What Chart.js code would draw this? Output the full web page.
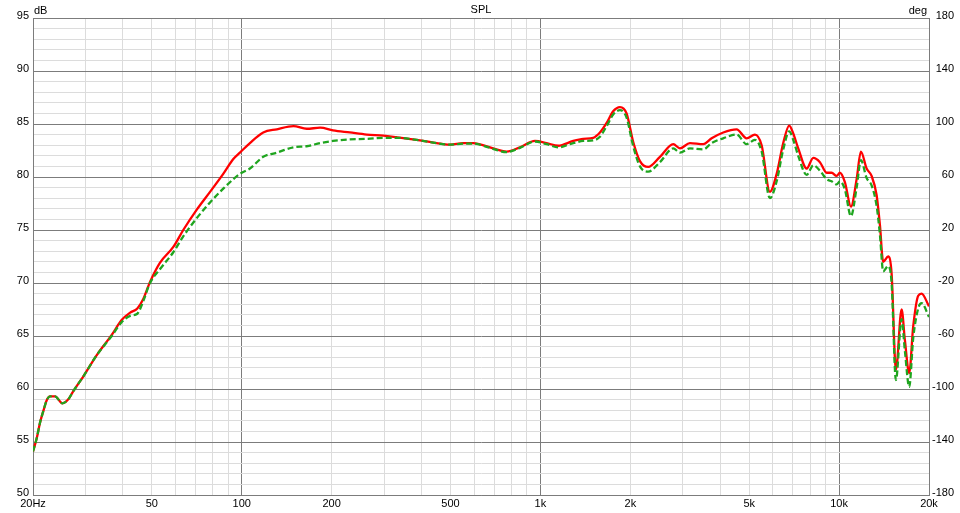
<!DOCTYPE html>
<html>
<head>
<meta charset="utf-8">
<script src="https://cdn.jsdelivr.net/npm/chart.js@4/dist/chart.umd.min.js"></script>
<style>
html,body{margin:0;padding:0;background:#fff;}
#wrap{width:960px;height:513px;}
</style>
</head>
<body>
<div id="wrap"><canvas id="c" width="960" height="513"></canvas></div>
<script>
// Frequencies (Hz)
const freqs = [20,20.6,21.1,21.7,22.2,22.8,23.7,25.1,26.3,27.3,
  29.5,32.7,36.7,39.6,42.3,44.7,46.8,49.3,53.2,59.0,
  63.7,70.6,78.3,86.7,93.7,98.6,106.5,118,131,149,
  165,183,202,230,262,298,330,385,438,498,
  552,596,678,771,854,959,1049,1147,1288,1391,
  1502,1582,1666,1752,1846,1943,2045,2154,2296,2513,
  2784,2932,3166,3508,3743,4093,4538,4902,5226,5504,
  5866,6180,6501,6808,7022,7298,7788,8194,8626,9084,
  9440,9812,10066,10462,10956,11448,11832,12364,12848,13352,
  13696,14050,14602,14990,15496,16192,16608,17170,17708,18402,
  18892,20000];
// Red solid curve (dB)
const redDb = [54.1,55.4,56.8,58.0,58.9,59.3,59.3,58.65,59.05,59.8,
  61.2,63.2,65.1,66.5,67.2,67.6,68.5,70.1,71.9,73.4,
  75.0,76.9,78.6,80.3,81.7,82.3,83.2,84.2,84.5,84.8,
  84.55,84.65,84.4,84.2,84.0,83.9,83.75,83.5,83.25,83.05,
  83.2,83.2,82.8,82.4,82.8,83.4,83.2,82.95,83.4,83.6,
  83.7,84.2,85.1,86.2,86.6,86.0,83.3,81.5,80.95,81.9,
  83.1,82.7,83.2,83.1,83.65,84.2,84.5,83.65,84.0,83.0,
  78.6,80.3,83.2,84.85,84.1,82.7,80.8,81.8,81.4,80.4,
  80.4,80.1,80.4,79.5,77.2,79.8,82.4,80.8,80.1,78.3,
  75.5,72.0,72.5,70.9,61.8,67.5,64.6,61.5,65.9,68.8,
  69.0,67.8];
// Green dashed curve (dB)
const greenDb = [54.1,55.4,56.8,58.0,58.9,59.3,59.3,58.65,59.05,59.8,
  61.2,63.2,65.0,66.3,66.9,67.1,68.3,70.0,71.3,72.9,
  74.4,76.1,77.6,78.9,79.8,80.3,80.8,81.9,82.3,82.8,
  82.9,83.2,83.4,83.55,83.6,83.7,83.7,83.5,83.25,83.05,
  83.15,83.15,82.75,82.35,82.75,83.35,83.1,82.8,83.2,83.4,
  83.45,83.8,84.8,85.9,86.3,85.6,82.9,81.0,80.5,81.4,
  82.7,82.3,82.7,82.6,83.2,83.65,84.0,83.1,83.5,82.4,
  78.0,79.6,82.6,84.3,83.5,82.0,80.2,81.1,80.6,79.8,
  79.6,79.3,79.6,78.8,76.3,79.0,81.6,79.9,79.2,77.3,
  74.6,71.1,71.6,70.0,60.85,66.6,63.6,60.2,64.8,67.6,
  68.1,66.8];
// Axis ticks
const xGridVals = [20,30,40,50,60,70,80,90,100,200,300,400,500,600,700,800,900,
  1000,2000,3000,4000,5000,6000,7000,8000,9000,10000,20000];
const xMajor = [20,100,1000,10000,20000];
const xLabels = {20:'20Hz',50:'50',100:'100',200:'200',500:'500',1000:'1k',2000:'2k',5000:'5k',10000:'10k',20000:'20k'};
const dbMin = 50, dbMax = 95;
const degMin = -180, degMax = 180, degStep = 40;
const titleText = 'SPL', leftUnit = 'dB', rightUnit = 'deg';

const FONT = {family:'"Liberation Sans", Arial, sans-serif', size:11};
const MAJOR = '#7c7c7c', MINOR = '#dcdcdc';

const redPts = freqs.map((f,i)=>({x:f,y:redDb[i]}));
const greenPts = freqs.map((f,i)=>({x:f,y:greenDb[i]}));

const textPlugin = {
  id:'txt',
  afterDraw(chart){
    const {ctx, chartArea:a} = chart;
    ctx.save();
    ctx.fillStyle = '#000';
    ctx.font = '11px "Liberation Sans", Arial, sans-serif';
    ctx.textBaseline = 'alphabetic';
    ctx.textAlign = 'center';
    ctx.fillText(titleText, (a.left+a.right)/2, 13);
    ctx.textAlign = 'left';
    ctx.fillText(leftUnit, a.left+1, 14);
    ctx.textAlign = 'right';
    ctx.fillText(rightUnit, a.right-2, 14);
    ctx.restore();
  }
};
const bgPlugin = {
  id:'bg',
  beforeDraw(chart){
    const ctx = chart.ctx;
    ctx.save(); ctx.fillStyle='#fff'; ctx.fillRect(0,0,chart.width,chart.height); ctx.restore();
  }
};

new Chart(document.getElementById('c'), {
  type:'line',
  data:{datasets:[
    {label:'red', data:redPts, borderColor:'#ff0000', borderWidth:2.3, pointRadius:0, fill:false,
     cubicInterpolationMode:'monotone', order:2, yAxisID:'y'},
    {label:'green', data:greenPts, borderColor:'#1fa51f', borderWidth:2.3, borderDash:[6,3], pointRadius:0, fill:false,
     cubicInterpolationMode:'monotone', order:1, yAxisID:'y'}
  ]},
  options:{
    responsive:false, animation:false, devicePixelRatio:1,
    layout:{padding:{top:18,right:6,left:0,bottom:0}},
    plugins:{legend:{display:false}, tooltip:{enabled:false}, title:{display:false}},
    scales:{
      x:{type:'logarithmic', position:'bottom', min:20, max:20000,
        afterBuildTicks(s){ s.ticks = xGridVals.map(v=>({value:v})); },
        afterFit(s){ s.height = 18; },
        ticks:{autoSkip:false, maxRotation:0, minRotation:0, padding:2, color:'#000', font:FONT,
          callback:(v)=> xLabels[v] !== undefined ? xLabels[v] : ''},
        grid:{drawTicks:false, lineWidth:1, color:(c)=> xMajor.includes(c.tick && c.tick.value) ? MAJOR : MINOR},
        border:{display:true, color:MAJOR}
      },
      y:{type:'linear', position:'left', min:dbMin, max:dbMax,
        afterFit(s){ s.width = 33; },
        ticks:{stepSize:1, autoSkip:false, padding:4, labelOffset:-2, color:'#000', font:FONT,
          callback:(v)=> (v%5===0) ? String(v) : ''},
        grid:{drawTicks:false, lineWidth:1, color:(c)=> (c.tick && c.tick.value%5===0) ? MAJOR : MINOR},
        border:{display:true, color:MAJOR}
      },
      y2:{type:'linear', position:'right', min:degMin, max:degMax,
        afterFit(s){ s.width = 25; },
        ticks:{stepSize:degStep, autoSkip:false, padding:2, labelOffset:-2, crossAlign:'far', color:'#000', font:FONT},
        grid:{display:false, drawOnChartArea:false, drawTicks:false},
        border:{display:true, color:MAJOR}
      }
    }
  },
  plugins:[bgPlugin, textPlugin]
});
</script>
</body>
</html>
